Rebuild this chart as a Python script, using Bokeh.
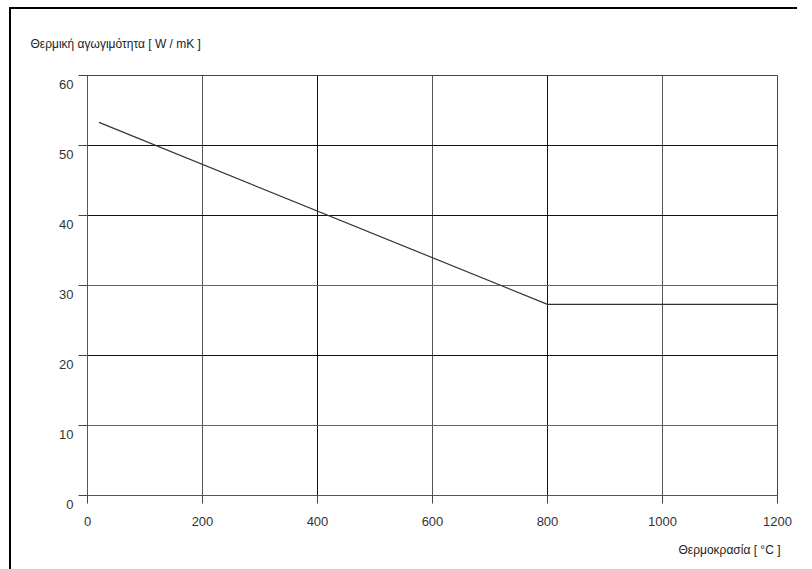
from bokeh.plotting import figure
from bokeh.models import Range1d, FixedTicker, Grid, Title
from bokeh.embed import file_html
from bokeh.resources import INLINE

# Thermal conductivity of steel against temperature
temperature = [20, 800, 1200]          # °C
conductivity = [53.3, 27.3, 27.3]      # W/mK

x_ticks = [0, 200, 400, 600, 800, 1000, 1200]
y_ticks = [0, 10, 20, 30, 40, 50, 60]

y_title = "Θερμική αγωγιμότητα [ W / mK ]"
x_title = "Θερμοκρασία [ °C ]"

FONT = "Liberation Sans"

p = figure(
    frame_width=690, frame_height=420,
    min_border_left=76, min_border_right=20,
    min_border_top=66, min_border_bottom=74,
    x_range=Range1d(0, 1200), y_range=Range1d(0, 60),
    output_backend="svg", toolbar_location=None,
)
p.margin = (7, 0, 0, 9)
p.styles = {"border-left": "2px solid #000", "border-top": "2px solid #000"}

p.background_fill_color = "white"
p.border_fill_color = "white"
p.outline_line_color = "#444"
p.outline_line_width = 1

# default grids off; draw them in groups of different darkness
p.xgrid.visible = False
p.ygrid.visible = False
for dim, ticks, color in [
    (0, [400, 800], "#111"),
    (0, [200, 600, 1000], "#555"),
    (0, [1200], "#333"),
    (1, [20, 40, 50], "#111"),
    (1, [10, 30, 60], "#666"),
]:
    p.add_layout(Grid(dimension=dim, ticker=FixedTicker(ticks=ticks),
                      grid_line_color=color, grid_line_width=1))

# axes
p.xaxis.ticker = FixedTicker(ticks=x_ticks)
p.yaxis.ticker = FixedTicker(ticks=y_ticks)
for ax in (p.xaxis, p.yaxis):
    ax.axis_line_color = "#555"
    ax.major_tick_line_color = "#444"
    ax.minor_tick_line_color = None
    ax.major_tick_in = 0
    ax.major_label_text_font = FONT
    ax.major_label_text_font_size = "13px"
    ax.major_label_text_color = "#333"
p.xaxis.major_tick_out = 8
p.xaxis.major_label_standoff = 13
p.yaxis.major_tick_out = 9
p.yaxis.major_label_standoff = 5
# y labels sit a little below their grid lines
p.yaxis.major_label_overrides = {t: "\n" + str(t) for t in y_ticks}

# curve
p.line(temperature, conductivity, line_color="#333", line_width=1.2)

# quantity names: top-left above the frame, bottom-right below the axis
p.title.text = y_title
p.title.align = "left"
p.title.vertical_align = "bottom"
p.title.offset = -57
p.title.standoff = 50
p.title.text_font = FONT
p.title.text_font_size = "12px"
p.title.text_font_style = "normal"
p.title.text_color = "#222"

p.add_layout(Title(text=x_title, align="right", vertical_align="bottom",
                   offset=-3, standoff=24,
                   text_font=FONT, text_font_size="12px",
                   text_font_style="normal", text_color="#222"), "below")

open("out.html", "w").write(file_html(p, INLINE))
